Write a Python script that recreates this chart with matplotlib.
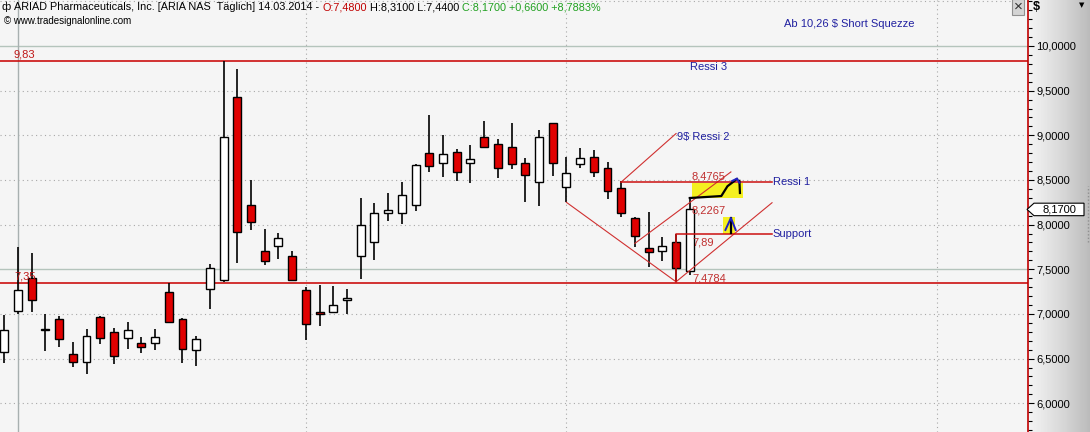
import matplotlib.pyplot as plt
import matplotlib.transforms as mtransforms
from matplotlib.patches import Polygon, Rectangle
import numpy as np

plt.rcParams['font.family'] = ['Liberation Sans', 'DejaVu Sans']

# ARIA daily candles up to 14.03.2014
opens = [6.57, 7.03, 7.40, 6.82, 6.94, 6.55, 6.46, 6.97, 6.80, 6.73,
         6.67, 6.67, 7.25, 6.94, 6.60, 7.28, 7.38, 9.43, 8.22, 7.70,
         7.76, 7.65, 7.27, 7.02, 7.02, 7.16, 7.65, 7.81, 8.13, 8.13,
         8.22, 8.80, 8.69, 8.81, 8.69, 8.98, 8.90, 8.87, 8.69, 8.48,
         9.14, 8.42, 8.68, 8.76, 8.63, 8.41, 8.07, 7.74, 7.70, 7.81, 7.48]
highs = [6.99, 7.75, 7.68, 7.00, 6.98, 6.69, 6.83, 6.98, 6.84, 6.91,
         6.74, 6.83, 7.35, 6.95, 6.75, 7.56, 9.83, 9.74, 8.50, 7.95,
         7.91, 7.70, 7.30, 7.32, 7.31, 7.28, 8.30, 8.24, 8.35, 8.48,
         8.68, 9.23, 9.00, 8.85, 8.89, 9.16, 8.96, 9.14, 8.75, 9.06,
         9.14, 8.76, 8.86, 8.84, 8.70, 8.49, 8.09, 8.14, 7.86, 7.89, 8.31]
lows = [6.45, 7.00, 7.02, 6.58, 6.63, 6.41, 6.33, 6.66, 6.44, 6.61,
        6.56, 6.60, 6.90, 6.45, 6.42, 7.05, 7.36, 7.57, 7.94, 7.55,
        7.61, 7.37, 6.71, 6.86, 7.02, 7.00, 7.39, 7.60, 8.04, 8.01,
        8.15, 8.59, 8.53, 8.49, 8.47, 8.86, 8.52, 8.62, 8.25, 8.21,
        8.54, 8.25, 8.63, 8.53, 8.29, 8.09, 7.75, 7.53, 7.59, 7.36, 7.44]
closes = [6.82, 7.27, 7.16, 6.82, 6.72, 6.46, 6.75, 6.73, 6.53, 6.82,
          6.63, 6.74, 6.91, 6.61, 6.72, 7.51, 8.98, 7.92, 8.03, 7.59,
          7.85, 7.38, 6.89, 7.00, 7.10, 7.18, 8.00, 8.13, 8.16, 8.33,
          8.67, 8.66, 8.79, 8.59, 8.73, 8.87, 8.63, 8.68, 8.56, 8.98,
          8.69, 8.58, 8.75, 8.59, 8.38, 8.13, 7.87, 7.69, 7.76, 7.51, 8.17]

price_ticks = [6.0, 6.5, 7.0, 7.5, 8.0, 8.5, 9.0, 9.5, 10.0]
dotted_levels = [6.0, 6.5, 7.0, 8.0, 8.5, 9.0, 9.5, 10.5]
solid_levels = [7.5, 10.0]
year_line = 1
month_lines = [22, 41, 68]

ressi3 = 9.83
floor_level = 7.35
last_close = 8.17

# drawn analysis lines (bar index, price)
wedge_x = [41, 49, 56]
wedge_y = [8.25, 7.36, 8.245]
channel_x = [46, 53]
channel_y = [7.79, 8.59]
ressi2_x = [45, 49]
ressi2_y = [8.4765, 9.02]
ressi1_x = [45, 56]
ressi1_y = [8.4765, 8.4765]
support_x = [49, 49, 56]
support_y = [7.36, 7.89, 7.89]

fib_labels = ['8,4765', '8,2267', '7,89', '7,4784']
fib_label_y = [8.544, 8.163, 7.805, 7.40]

# hand-drawn marker strokes
hl_big = (50.18, 8.30, 3.68, 0.17)
hl_small = (52.45, 7.90, 0.85, 0.19)
pen_x = [50.0, 52.3, 52.75, 53.44]
pen_y = [8.298, 8.32, 8.43, 8.511]
pen2_x = [53.62, 53.66]
pen2_y = [8.49, 8.354]
pen3_x = [53.0, 53.0]
pen3_y = [7.906, 8.07]
caret_x = [52.6, 53.0, 53.35]
caret_y = [7.94, 8.074, 7.94]
head_x = [53.1, 53.44, 53.62]
head_y = [8.49, 8.515, 8.47]

W, H = 1090, 432
fig = plt.figure(figsize=(W / 100, H / 100), dpi=100, facecolor='#f5f5f5')

# gradient behind the price scale
bg = fig.add_axes([1028 / W, 0, 1 - 1028 / W, 1], zorder=0)
grad = np.linspace(0, 1, 64).reshape(1, -1)
bg.imshow(grad, aspect='auto', cmap='Greys', vmin=-0.35, vmax=3.2, extent=(0, 1, 0, 1))
bg.plot([0.97, 0.97], [0.44, 0.57], color='#909090', ls=(0, (1, 1.5)), lw=1)
bg.set_xlim(0, 1)
bg.set_ylim(0, 1)
bg.axis('off')

ax = fig.add_axes([0, 0, 1028 / W, 1], zorder=1)
ax.set_facecolor('#f5f5f5')
ax.set_xlim(-0.31, 74.67)
ax.set_ylim(5.678, 10.515)

for lv in dotted_levels:
    ax.axhline(lv, color='#a8a8a8', ls=(0, (1, 3)), lw=0.8, zorder=1)
for lv in solid_levels:
    ax.axhline(lv, color='#b4c4bc', lw=1, zorder=1)
for m in month_lines:
    ax.axvline(m, color='#a8a8a8', ls=(0, (1, 3)), lw=0.8, zorder=1)
ax.axvline(year_line, color='#a8b0b0', lw=1, zorder=1)

ax.axhline(ressi3, color='#cc1010', lw=1.2, zorder=2)
ax.axhline(floor_level, color='#cc1010', lw=1.2, zorder=2)

x = np.arange(len(opens))
o = np.array(opens)
c = np.array(closes)
up = c >= o
body = np.maximum(np.abs(c - o), 0.008)
ax.vlines(x, lows, highs, color='black', lw=1.2, zorder=3)
ax.bar(x, body, bottom=np.minimum(o, c), width=0.58,
       color=np.where(up, 'white', '#e00000'), edgecolor='black', lw=1, zorder=4)

tl = dict(color='#d03030', lw=0.8, zorder=5)
ax.plot(wedge_x, wedge_y, **tl)
ax.plot(channel_x, channel_y, **tl)
ax.plot(ressi2_x, ressi2_y, **tl)
ax.plot(ressi1_x, ressi1_y, color='#cc1010', lw=1.1, zorder=5)
ax.plot(support_x, support_y, color='#cc1010', lw=1.1, zorder=5)

ax.add_patch(Rectangle(hl_big[:2], hl_big[2], hl_big[3], color='#f4f020', zorder=4.5, lw=0))
ax.add_patch(Rectangle(hl_small[:2], hl_small[2], hl_small[3], color='#f4f020', zorder=4.5, lw=0))
ax.plot(pen_x, pen_y, color='black', lw=1.6, zorder=6)
ax.plot(pen2_x, pen2_y, color='black', lw=1.6, zorder=6)
ax.plot(pen3_x, pen3_y, color='black', lw=1.6, zorder=6)
ax.plot(caret_x, caret_y, color='#2020c0', lw=1.4, zorder=6)
ax.plot(head_x, head_y, color='#2020c0', lw=1.4, zorder=6)

red = '#c01818'
blue = '#2020a0'
fs = 8
ax.text(0.71, 9.90, '9,83', color=red, fontsize=fs, va='center', zorder=7)
ax.text(0.71, 7.42, '7,35', color=red, fontsize=fs, va='center', zorder=7)
ax.text(50.0, 9.765, 'Ressi 3', color=blue, fontsize=fs, va='center', zorder=7)
ax.text(56.9, 10.25, 'Ab 10,26 $ Short Squezze', color=blue, fontsize=fs, va='center', zorder=7)
ax.text(49.05, 8.98, '9$ Ressi 2', color=blue, fontsize=fs, va='center', zorder=7)
ax.text(56.05, 8.4765, 'Ressi 1', color=blue, fontsize=fs, va='center', zorder=7)
ax.text(56.05, 7.89, 'Support', color=blue, fontsize=fs, va='center', zorder=7)
for lab, yy in zip(fib_labels, fib_label_y):
    ax.text(50.16, yy, lab, color='#c03030', fontsize=fs, va='center', zorder=7)

ax.yaxis.tick_right()
ax.set_yticks(price_ticks)
ax.set_yticklabels([f'{v:.4f}'.replace('.', ',') for v in price_ticks])
ax.set_yticks(np.arange(5.7, 10.55, 0.1), minor=True)
ax.tick_params(axis='y', which='major', length=4, width=0.8, pad=2, labelsize=8)
ax.tick_params(axis='y', which='minor', length=3, width=0.8)
ax.set_xticks([])
for s in ['top', 'left', 'bottom']:
    ax.spines[s].set_visible(False)
ax.spines['right'].set_color('#c00000')
ax.spines['right'].set_linewidth(1.2)

# last price box on the scale
bt = mtransforms.blended_transform_factory(fig.transFigure, ax.transData)
hh = 0.07
box = Polygon([(1027 / W, last_close), (1034 / W, last_close + hh), (1084 / W, last_close + hh),
               (1084 / W, last_close - hh), (1034 / W, last_close - hh)],
              closed=True, fc='white', ec='black', lw=0.8, transform=bt, zorder=10)
fig.add_artist(box)
fig.text(1059 / W, last_close, f'{last_close:.4f}'.replace('.', ','), transform=bt,
         ha='center', va='center', fontsize=8, zorder=11)

# header lines, one colour per piece, chained left to right
parts = [('ARIAD Pharmaceuticals, Inc. [ARIA NAS  Täglich] 14.03.2014 - ', 'black'),
         ('O:7,4800', '#c00000'),
         (' H:8,3100 L:7,4400 ', 'black'),
         ('C:8,1700 +0,6600 +8,7883%', '#20a020')]
hfs = 7.8
t = fig.text(14 / W, 1 - 7 / H, parts[0][0], color=parts[0][1], fontsize=hfs, va='center')
for s, col in parts[1:]:
    t = ax.annotate(s, xy=(1, 0), xycoords=t, va='bottom', ha='left',
                    color=col, fontsize=hfs, annotation_clip=False)
fig.text(1 / W, 1 - 7 / H, 'ф', fontsize=8, va='center')
fig.text(4 / W, 1 - 21 / H, '© www.tradesignalonline.com', fontsize=7, va='center')

fig.text(1033 / W, 1 - 7 / H, '$', fontsize=9, fontweight='bold', va='center')
fig.text(1079 / W, 1 - 5 / H, '▼', fontsize=5, va='center', family='DejaVu Sans')
fig.text(1018 / W, 1 - 7 / H, '×', fontsize=11, ha='center', va='center', color='#303030',
         bbox=dict(boxstyle='square,pad=0.08', fc='#d4d4d4', ec='#909090', lw=0.8))

fig.savefig('out.png', dpi=100, facecolor=fig.get_facecolor())
